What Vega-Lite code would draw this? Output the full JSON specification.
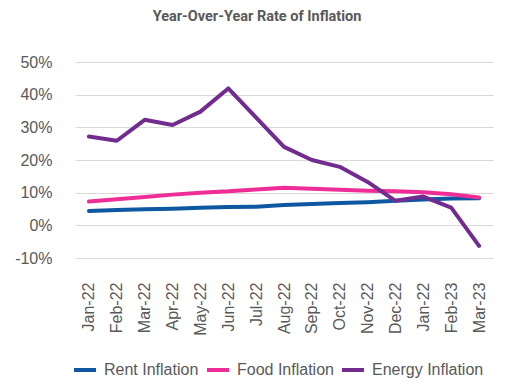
{
  "$schema": "https://vega.github.io/schema/vega-lite/v6.json",
  "autosize": {"type": "none"},
  "padding": {"left": 75, "top": 62, "right": 35, "bottom": 132},
  "width": 418,
  "height": 196,
  "background": "white",
  "config": {"view": {"stroke": null}},
  "title": {
    "text": "Year-Over-Year Rate of Inflation",
    "font": "Roboto",
    "fontSize": 14.5,
    "fontWeight": "bold",
    "color": "#595959",
    "anchor": "middle",
    "dx": -27,
    "offset": 30
  },
  "data": {
    "values": [
      {"month": "2022-01", "series": "Rent Inflation", "value": 4.4},
      {"month": "2022-02", "series": "Rent Inflation", "value": 4.7},
      {"month": "2022-03", "series": "Rent Inflation", "value": 4.9},
      {"month": "2022-04", "series": "Rent Inflation", "value": 5.1},
      {"month": "2022-05", "series": "Rent Inflation", "value": 5.4},
      {"month": "2022-06", "series": "Rent Inflation", "value": 5.6},
      {"month": "2022-07", "series": "Rent Inflation", "value": 5.7},
      {"month": "2022-08", "series": "Rent Inflation", "value": 6.2},
      {"month": "2022-09", "series": "Rent Inflation", "value": 6.5},
      {"month": "2022-10", "series": "Rent Inflation", "value": 6.8},
      {"month": "2022-11", "series": "Rent Inflation", "value": 7.1},
      {"month": "2022-12", "series": "Rent Inflation", "value": 7.5},
      {"month": "2023-01", "series": "Rent Inflation", "value": 7.9},
      {"month": "2023-02", "series": "Rent Inflation", "value": 8.2},
      {"month": "2023-03", "series": "Rent Inflation", "value": 8.3},
      {"month": "2022-01", "series": "Food Inflation", "value": 7.3},
      {"month": "2022-02", "series": "Food Inflation", "value": 8.0},
      {"month": "2022-03", "series": "Food Inflation", "value": 8.7},
      {"month": "2022-04", "series": "Food Inflation", "value": 9.4},
      {"month": "2022-05", "series": "Food Inflation", "value": 10.0},
      {"month": "2022-06", "series": "Food Inflation", "value": 10.4},
      {"month": "2022-07", "series": "Food Inflation", "value": 11.0},
      {"month": "2022-08", "series": "Food Inflation", "value": 11.5},
      {"month": "2022-09", "series": "Food Inflation", "value": 11.2},
      {"month": "2022-10", "series": "Food Inflation", "value": 10.9},
      {"month": "2022-11", "series": "Food Inflation", "value": 10.6},
      {"month": "2022-12", "series": "Food Inflation", "value": 10.4},
      {"month": "2023-01", "series": "Food Inflation", "value": 10.1},
      {"month": "2023-02", "series": "Food Inflation", "value": 9.5},
      {"month": "2023-03", "series": "Food Inflation", "value": 8.5},
      {"month": "2022-01", "series": "Energy Inflation", "value": 27.2},
      {"month": "2022-02", "series": "Energy Inflation", "value": 25.9},
      {"month": "2022-03", "series": "Energy Inflation", "value": 32.3},
      {"month": "2022-04", "series": "Energy Inflation", "value": 30.7},
      {"month": "2022-05", "series": "Energy Inflation", "value": 34.8},
      {"month": "2022-06", "series": "Energy Inflation", "value": 41.9},
      {"month": "2022-07", "series": "Energy Inflation", "value": 33.0},
      {"month": "2022-08", "series": "Energy Inflation", "value": 24.0},
      {"month": "2022-09", "series": "Energy Inflation", "value": 20.0},
      {"month": "2022-10", "series": "Energy Inflation", "value": 17.9},
      {"month": "2022-11", "series": "Energy Inflation", "value": 13.3},
      {"month": "2022-12", "series": "Energy Inflation", "value": 7.5},
      {"month": "2023-01", "series": "Energy Inflation", "value": 8.8},
      {"month": "2023-02", "series": "Energy Inflation", "value": 5.4},
      {"month": "2023-03", "series": "Energy Inflation", "value": -6.3}
    ]
  },
  "mark": {"type": "line", "strokeWidth": 4, "strokeJoin": "round", "strokeCap": "round"},
  "encoding": {
    "x": {
      "field": "month",
      "type": "ordinal",
      "scale": {"type": "point", "padding": 0.5},
      "axis": {
        "title": null,
        "labelAngle": -90,
        "labelFont": "Liberation Sans",
        "labelFontSize": 16,
        "labelColor": "#595959",
        "labelPadding": 24,
        "ticks": false,
        "domain": false,
        "labelExpr": "{'2022-01':'Jan-22','2022-02':'Feb-22','2022-03':'Mar-22','2022-04':'Apr-22','2022-05':'May-22','2022-06':'Jun-22','2022-07':'Jul-22','2022-08':'Aug-22','2022-09':'Sep-22','2022-10':'Oct-22','2022-11':'Nov-22','2022-12':'Dec-22','2023-01':'Jan-22','2023-02':'Feb-23','2023-03':'Mar-23'}[datum.value]"
      }
    },
    "y": {
      "field": "value",
      "type": "quantitative",
      "scale": {"domain": [-10, 50], "nice": false},
      "axis": {
        "title": null,
        "values": [-10, 0, 10, 20, 30, 40, 50],
        "labelExpr": "datum.value + '%'",
        "labelFont": "Liberation Sans",
        "labelFontSize": 16,
        "labelColor": "#595959",
        "labelPadding": 23,
        "ticks": false,
        "domain": false,
        "grid": true,
        "gridColor": "#d9d9d9",
        "gridWidth": 1
      }
    },
    "color": {
      "field": "series",
      "type": "nominal",
      "sort": ["Rent Inflation", "Food Inflation", "Energy Inflation"],
      "scale": {
        "domain": ["Rent Inflation", "Food Inflation", "Energy Inflation"],
        "range": ["#0E57A1", "#EE2E96", "#722B8E"]
      },
      "legend": {
        "title": null,
        "orient": "none",
        "direction": "horizontal",
        "legendX": -3,
        "legendY": 295,
        "symbolType": "stroke",
        "symbolStrokeWidth": 4,
        "symbolSize": 484,
        "labelFont": "Liberation Sans",
        "labelFontSize": 16,
        "labelColor": "#595959",
        "labelOffset": 6,
        "columnPadding": 0
      }
    },
    "order": {"field": "month"}
  }
}
